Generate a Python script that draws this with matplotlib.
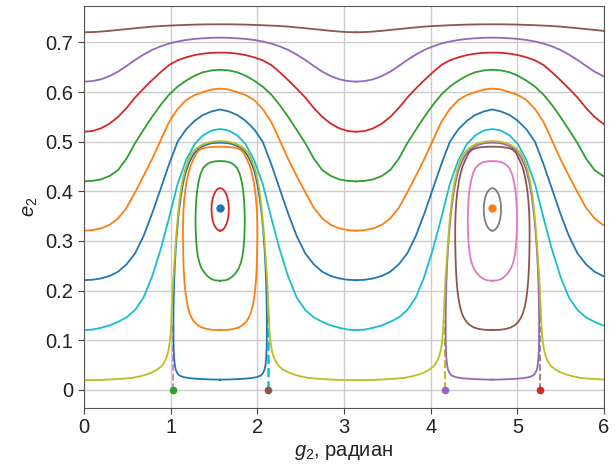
import numpy as np
import matplotlib
matplotlib.use('Agg')
import matplotlib.pyplot as plt

plt.rcParams['font.family'] = ['Liberation Sans', 'DejaVu Sans']
plt.rcParams['mathtext.fontset'] = 'custom'
plt.rcParams['mathtext.rm'] = 'Liberation Sans'
plt.rcParams['mathtext.it'] = 'Liberation Sans:italic'

# one period of g2 (the picture repeats with period pi)
g_per = [0, 0.098, 0.196, 0.295, 0.393, 0.491, 0.589, 0.687, 0.785, 0.884, 0.982,
         1.080, 1.178, 1.276, 1.374, 1.473, 1.571, 1.669, 1.767, 1.865, 1.963,
         2.062, 2.160, 2.258, 2.356, 2.454, 2.553, 2.651, 2.749, 2.847, 2.945,
         3.043, 3.142]
shifts = [0, 3.1416]

# circulating curves, e2 over one period
e_cyan = [0.1204, 0.1215, 0.125, 0.130, 0.137, 0.146, 0.161, 0.186, 0.228, 0.283, 0.347,
          0.415, 0.463, 0.495, 0.513, 0.5225, 0.5256, 0.5225, 0.513, 0.495, 0.463,
          0.415, 0.347, 0.283, 0.228, 0.186, 0.161, 0.146, 0.137, 0.130, 0.125,
          0.1215, 0.1204]
e_blue = [0.221, 0.2218, 0.2245, 0.2295, 0.238, 0.253, 0.275, 0.310, 0.355, 0.405, 0.455,
          0.500, 0.525, 0.542, 0.554, 0.561, 0.565, 0.561, 0.554, 0.542, 0.525,
          0.500, 0.455, 0.405, 0.355, 0.310, 0.275, 0.253, 0.238, 0.2295, 0.2245,
          0.2218, 0.221]
e_orange = [0.3207, 0.3218, 0.3253, 0.3325, 0.3455, 0.367, 0.398, 0.431, 0.465, 0.503, 0.540,
            0.566, 0.584, 0.594, 0.600, 0.6052, 0.607, 0.6052, 0.600, 0.594, 0.584,
            0.566, 0.540, 0.503, 0.465, 0.431, 0.398, 0.367, 0.3455, 0.3325, 0.3253,
            0.3218, 0.3207]
e_green = [0.4201, 0.4211, 0.4241, 0.431, 0.4429, 0.466, 0.497, 0.524, 0.550, 0.574, 0.595,
           0.611, 0.623, 0.633, 0.640, 0.6437, 0.645, 0.6437, 0.640, 0.633, 0.623,
           0.611, 0.595, 0.574, 0.550, 0.524, 0.497, 0.466, 0.4429, 0.431, 0.4241,
           0.4211, 0.4201]
e_red = [0.520, 0.5215, 0.527, 0.5365, 0.550, 0.568, 0.589, 0.607, 0.624, 0.640, 0.6546,
         0.664, 0.670, 0.6745, 0.6775, 0.679, 0.6795, 0.679, 0.6775, 0.6745, 0.670,
         0.664, 0.6546, 0.640, 0.624, 0.607, 0.589, 0.568, 0.550, 0.5365, 0.527,
         0.5215, 0.520]
e_purple = [0.621, 0.6222, 0.6257, 0.6323, 0.6412, 0.6527, 0.6647, 0.6755, 0.6849, 0.6921, 0.6977,
            0.7019, 0.705, 0.7071, 0.7084, 0.7093, 0.7097, 0.7093, 0.7084, 0.7071, 0.705,
            0.7019, 0.6977, 0.6921, 0.6849, 0.6755, 0.6647, 0.6527, 0.6412, 0.6323, 0.6257,
            0.6222, 0.621]
e_brown = [0.7205, 0.7209, 0.7219, 0.7234, 0.7252, 0.7269, 0.7286, 0.7303, 0.7319, 0.7330, 0.7339,
           0.7347, 0.7353, 0.7359, 0.7363, 0.7365, 0.7366, 0.7365, 0.7363, 0.7359, 0.7353,
           0.7347, 0.7339, 0.7330, 0.7319, 0.7303, 0.7286, 0.7269, 0.7252, 0.7234, 0.7219,
           0.7209, 0.7205]

# curve just outside the separatrix, one period
g_sep = [0, 0.2, 0.4, 0.55, 0.65, 0.73, 0.80, 0.855, 0.90, 0.93, 0.955, 0.975, 0.99,
         1.0, 1.007, 1.012, 1.020, 1.030, 1.042, 1.055, 1.069, 1.087, 1.107, 1.133,
         1.165, 1.20, 1.242, 1.30, 1.357, 1.42, 1.50, 1.571,
         1.642, 1.722, 1.785, 1.842, 1.900, 1.942, 1.977, 2.009, 2.035, 2.055, 2.073,
         2.087, 2.100, 2.112, 2.122, 2.130, 2.135, 2.142, 2.152, 2.167, 2.187, 2.212,
         2.242, 2.287, 2.342, 2.412, 2.492, 2.592, 2.742, 2.942, 3.142]
e_sep = [0.0195, 0.020, 0.0218, 0.024, 0.0275, 0.0315, 0.0365, 0.042, 0.049, 0.057, 0.067,
         0.080, 0.097, 0.115, 0.135, 0.16, 0.19, 0.225, 0.255, 0.29, 0.322, 0.357, 0.389,
         0.418, 0.443, 0.461, 0.4765, 0.487, 0.4933, 0.4975, 0.5005, 0.501,
         0.5005, 0.4975, 0.4933, 0.487, 0.4765, 0.461, 0.443, 0.418, 0.389, 0.357, 0.322,
         0.29, 0.255, 0.225, 0.19, 0.16, 0.135, 0.115, 0.097, 0.080, 0.067, 0.057,
         0.049, 0.042, 0.0365, 0.0315, 0.0275, 0.024, 0.0218, 0.020, 0.0195]

# librating loops, g offsets from the island centre
centres = [1.5708, 4.7124]
dg_l1 = [0, -0.121, -0.241, -0.351, -0.421, -0.471, -0.496, -0.513, -0.524, -0.531,
         -0.536, -0.538, -0.539, -0.538, -0.535, -0.530, -0.523, -0.512, -0.497, -0.479,
         -0.456, -0.429, -0.396, -0.358, -0.313, -0.261, -0.201, -0.131, -0.071,
         0, 0.071, 0.131, 0.201, 0.261, 0.313, 0.358, 0.396, 0.429, 0.456,
         0.479, 0.497, 0.512, 0.523, 0.530, 0.535, 0.538, 0.539, 0.538, 0.536,
         0.531, 0.524, 0.513, 0.496, 0.471, 0.421, 0.351, 0.241, 0.121, 0]
e_l1 = [0.0205, 0.021, 0.022, 0.0235, 0.0255, 0.029, 0.034, 0.041, 0.051, 0.064,
        0.08, 0.10, 0.13, 0.16, 0.19, 0.22, 0.25, 0.285, 0.32, 0.355,
        0.387, 0.415, 0.44, 0.458, 0.473, 0.484, 0.491, 0.4955, 0.4975,
        0.498, 0.4975, 0.4955, 0.491, 0.484, 0.473, 0.458, 0.44, 0.415, 0.387,
        0.355, 0.32, 0.285, 0.25, 0.22, 0.19, 0.16, 0.13, 0.10, 0.08,
        0.064, 0.051, 0.041, 0.034, 0.029, 0.0255, 0.0235, 0.022, 0.021, 0.0205]
dg_l2 = [0, -0.081, -0.151, -0.211, -0.261, -0.299, -0.329, -0.354, -0.374, -0.390,
         -0.403, -0.414, -0.421, -0.426, -0.429, -0.429, -0.425, -0.416, -0.404, -0.387,
         -0.366, -0.341, -0.310, -0.271, -0.231, -0.181, -0.121, -0.061,
         0, 0.061, 0.121, 0.181, 0.231, 0.271, 0.310, 0.341, 0.366, 0.387,
         0.404, 0.416, 0.425, 0.429, 0.429, 0.426, 0.421, 0.414, 0.403, 0.390,
         0.374, 0.354, 0.329, 0.299, 0.261, 0.211, 0.151, 0.081, 0]
e_l2 = [0.1204, 0.1209, 0.1225, 0.1255, 0.1305, 0.137, 0.145, 0.155, 0.168, 0.183,
        0.200, 0.222, 0.245, 0.27, 0.30, 0.33, 0.356, 0.38, 0.40, 0.420,
        0.437, 0.452, 0.464, 0.478, 0.4845, 0.4875, 0.489, 0.4898,
        0.490, 0.4898, 0.489, 0.4875, 0.4845, 0.478, 0.464, 0.452, 0.437, 0.420,
        0.40, 0.38, 0.356, 0.33, 0.30, 0.27, 0.245, 0.222, 0.200, 0.183,
        0.168, 0.155, 0.145, 0.137, 0.1305, 0.1255, 0.1225, 0.1209, 0.1204]
dg_l3 = [0, -0.06, -0.10, -0.14, -0.18, -0.215, -0.24, -0.258, -0.27, -0.278,
         -0.283, -0.284, -0.281, -0.275, -0.264, -0.248, -0.226, -0.196, -0.156, -0.11, -0.055,
         0, 0.055, 0.11, 0.156, 0.196, 0.226, 0.248, 0.264, 0.275, 0.281,
         0.284, 0.283, 0.278, 0.27, 0.258, 0.24, 0.215, 0.18, 0.14, 0.10, 0.06, 0]
e_l3 = [0.2198, 0.2207, 0.2232, 0.228, 0.2355, 0.245, 0.2565, 0.27, 0.286, 0.305,
        0.325, 0.345, 0.365, 0.385, 0.403, 0.42, 0.435, 0.447, 0.454, 0.4585, 0.4605,
        0.461, 0.4605, 0.4585, 0.454, 0.447, 0.435, 0.42, 0.403, 0.385, 0.365,
        0.345, 0.325, 0.305, 0.286, 0.27, 0.2565, 0.245, 0.2355, 0.228, 0.2232, 0.2207, 0.2198]
dg_l4 = [0, -0.026, -0.050, -0.071, -0.087, -0.097, -0.100, -0.097, -0.087, -0.071,
         -0.050, -0.026, 0, 0.026, 0.050, 0.071, 0.087, 0.097, 0.100, 0.097,
         0.087, 0.071, 0.050, 0.026, 0]
e_l4 = [0.3206, 0.3221, 0.3264, 0.3332, 0.3421, 0.3525, 0.3636, 0.3747, 0.3851, 0.3940,
        0.4008, 0.4051, 0.4066, 0.4051, 0.4008, 0.3940, 0.3851, 0.3747, 0.3636, 0.3525,
        0.3421, 0.3332, 0.3264, 0.3221, 0.3206]

# separatrix feet on e2 = 0 and island centres
g_feet = [1.022, 2.119, 4.164, 5.261]
dash_top = [0.135, 0.148, 0.140, 0.150]
e_centre = 0.3656

fig = plt.figure(figsize=(6.16, 4.65), dpi=100)
ax = fig.add_axes([0.1364, 0.1232, 0.8441, 0.8645])

# dashed separatrix branches
dash_cols = ['tab:pink', 'tab:cyan', 'tab:olive', 'tab:gray']
dash_lw = [1.3, 1.8, 1.5, 1.3]
for gf, top, c, lw in zip(g_feet, dash_top, dash_cols, dash_lw):
    ax.plot([gf, gf], [0, top], '--', color=c, linewidth=lw)

outer = [(e_cyan, 'tab:cyan'), (e_blue, 'tab:blue'), (e_orange, 'tab:orange'),
         (e_green, 'tab:green'), (e_red, 'tab:red'), (e_purple, 'tab:purple'),
         (e_brown, 'tab:brown')]
for ee, c in outer:
    for s in shifts:
        ax.plot(np.array(g_per) + s, ee, color=c, linewidth=1.3)

loops = [(dg_l1, e_l1), (dg_l2, e_l2), (dg_l3, e_l3), (dg_l4, e_l4)]
loop_cols = [['tab:blue', 'tab:orange', 'tab:green', 'tab:red'],
             ['tab:purple', 'tab:brown', 'tab:pink', 'tab:gray']]
for gc, cols in zip(centres, loop_cols):
    for (dg, ee), c in zip(loops, cols):
        ax.plot(np.array(dg) + gc, ee, color=c, linewidth=1.3)

for s in shifts:
    ax.plot(np.array(g_sep) + s, e_sep, color='tab:olive', linewidth=1.3)

dot_cols = ['tab:green', 'tab:brown', 'tab:purple', 'tab:red']
for gf, c in zip(g_feet, dot_cols):
    ax.plot(gf, 0, 'o', color=c, markersize=4.5)
ax.plot(centres[0], e_centre, 'o', color='tab:blue', markersize=5)
ax.plot(centres[1], e_centre, 'o', color='tab:orange', markersize=5)

ax.set_xlim(0, 6)
ax.set_ylim(-0.036, 0.774)
ax.set_xticks([0, 1, 2, 3, 4, 5, 6])
ax.set_yticks([0, 0.1, 0.2, 0.3, 0.4, 0.5, 0.6, 0.7])
ax.set_yticklabels(['0', '0.1', '0.2', '0.3', '0.4', '0.5', '0.6', '0.7'])
ax.grid(True, color='#cccccc', linewidth=1.0)
ax.set_axisbelow(True)
ax.tick_params(labelsize=14.5, length=4, color='#444444', labelcolor='#222222')
for sp in ax.spines.values():
    sp.set_color('#555555')
ax.set_xlabel('$g_2$, радиан', fontsize=14.5, color='#222222')
ax.set_ylabel('$e_2$', fontsize=14.5, color='#222222')

plt.savefig('out.png', dpi=100)
